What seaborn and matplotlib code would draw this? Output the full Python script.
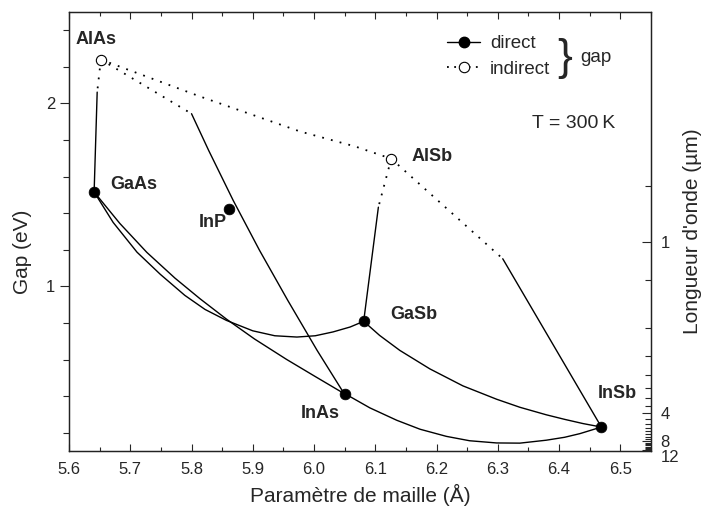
import numpy as np
import pandas as pd
import matplotlib
matplotlib.use("Agg")
import matplotlib.pyplot as plt
from matplotlib.lines import Line2D
from matplotlib.ticker import MultipleLocator, FixedLocator, FormatStrFormatter
import seaborn as sns

# binary III-V compounds at 300 K
compounds = ["AlAs", "GaAs", "InP", "AlSb", "GaSb", "InAs", "InSb"]
lattice = [5.652, 5.641, 5.861, 6.126, 6.081, 6.050, 6.469]
gaps = [2.240, 1.515, 1.422, 1.698, 0.809, 0.414, 0.231]
gap_type = ["indirect", "direct", "direct", "indirect", "direct", "direct", "direct"]

# ternary alloys, points
# indirect parts (dotted)
algaas_ind_a = [5.652, 5.646]
algaas_ind_e = [2.240, 2.062]
alinas_ind_a = [5.652, 5.800]
alinas_ind_e = [2.240, 1.944]
alassb_ind_a = [5.652, 5.814, 5.977, 6.067, 6.126]
alassb_ind_e = [2.240, 2.038, 1.847, 1.765, 1.698]
algasb_ind_a = [6.126, 6.105]
algasb_ind_e = [1.698, 1.433]
alinsb_ind_a = [6.126, 6.308]
alinsb_ind_e = [1.698, 1.151]

# direct parts (solid)
algaas_dir_a = [5.646, 5.641]
algaas_dir_e = [2.062, 1.515]
alinas_dir_a = [5.800, 5.828, 5.868, 5.911, 5.957, 6.005, 6.049]
alinas_dir_e = [1.944, 1.743, 1.470, 1.197, 0.924, 0.650, 0.414]
algasb_dir_a = [6.105, 6.081]
algasb_dir_e = [1.433, 0.809]
alinsb_dir_a = [6.308, 6.469]
alinsb_dir_e = [1.151, 0.231]
gaassb_a = [5.641, 5.672, 5.711, 5.749, 5.789, 5.822, 5.857, 5.900,
            5.936, 5.972, 6.002, 6.031, 6.059, 6.081]
gaassb_e = [1.516, 1.350, 1.187, 1.066, 0.951, 0.874, 0.814, 0.757,
            0.730, 0.723, 0.730, 0.751, 0.778, 0.809]
ingaas_a = [5.641, 5.683, 5.727, 5.773, 5.814, 5.857, 5.903, 5.955, 6.001, 6.049]
ingaas_e = [1.516, 1.344, 1.186, 1.045, 0.932, 0.821, 0.712, 0.601, 0.509, 0.414]
inassb_a = [6.050, 6.091, 6.135, 6.173, 6.216, 6.254, 6.298, 6.336,
            6.379, 6.409, 6.434, 6.469]
inassb_e = [0.414, 0.336, 0.268, 0.219, 0.180, 0.156, 0.144, 0.143,
            0.159, 0.175, 0.195, 0.231]
ingasb_a = [6.081, 6.107, 6.140, 6.189, 6.243, 6.298, 6.336, 6.379,
            6.409, 6.439, 6.469]
ingasb_e = [0.809, 0.732, 0.650, 0.549, 0.456, 0.383, 0.339, 0.298,
            0.273, 0.250, 0.231]

# wavelength ticks on the right axis (µm)
wl_major = [1, 4, 8, 12]
wl_minor = [0.8, 1.2, 1.6, 2.0, 2.4, 2.8, 3.2, 3.6] + list(np.arange(4.5, 12, 0.5))

segments = [
    ("AlGaAs i", "indirect", algaas_ind_a, algaas_ind_e),
    ("AlInAs i", "indirect", alinas_ind_a, alinas_ind_e),
    ("AlAsSb i", "indirect", alassb_ind_a, alassb_ind_e),
    ("AlGaSb i", "indirect", algasb_ind_a, algasb_ind_e),
    ("AlInSb i", "indirect", alinsb_ind_a, alinsb_ind_e),
    ("AlGaAs d", "direct", algaas_dir_a, algaas_dir_e),
    ("AlInAs d", "direct", alinas_dir_a, alinas_dir_e),
    ("AlGaSb d", "direct", algasb_dir_a, algasb_dir_e),
    ("AlInSb d", "direct", alinsb_dir_a, alinsb_dir_e),
    ("GaAsSb", "direct", gaassb_a, gaassb_e),
    ("InGaAs", "direct", ingaas_a, ingaas_e),
    ("InAsSb", "direct", inassb_a, inassb_e),
    ("InGaSb", "direct", ingasb_a, ingasb_e),
]
curves = pd.concat(
    [pd.DataFrame({"a": a, "E": e, "segment": name, "type": kind})
     for name, kind, a, e in segments],
    ignore_index=True,
)
points = pd.DataFrame({"name": compounds, "a": lattice, "E": gaps, "type": gap_type})

sns.set_style("ticks")
plt.rcParams["font.family"] = ["Liberation Sans", "DejaVu Sans"]

fig = plt.figure(figsize=(7.1, 5.19), dpi=100)
ax = fig.add_axes([69 / 710, 68 / 519, 582 / 710, 439 / 519])

sns.lineplot(data=curves, x="a", y="E", units="segment", style="type",
             estimator=None, sort=False, color="black", linewidth=1.0,
             dashes={"direct": "", "indirect": (1, 4)}, legend=False, ax=ax)
for ln in ax.lines:
    if ln.get_linestyle() != "-":
        ln.set_linewidth(1.3)

direct = points[points["type"] == "direct"]
indirect = points[points["type"] == "indirect"]
sns.scatterplot(data=direct, x="a", y="E", color="black", s=60,
                edgecolor="black", linewidth=0.5, zorder=5, ax=ax)
sns.scatterplot(data=indirect, x="a", y="E", color="white", s=55,
                edgecolor="black", linewidth=0.8, zorder=5, ax=ax)

# compound labels, offsets in pixels from each point
offsets = {
    "AlAs": (-5, 20, "center"),
    "GaAs": (16, 8, "left"),
    "InP": (-2, -13, "right"),
    "AlSb": (20, 2, "left"),
    "GaSb": (27, 7, "left"),
    "InAs": (-5, -20, "right"),
    "InSb": (16, 34, "center"),
}
for name, a, e in zip(compounds, lattice, gaps):
    dx, dy, ha = offsets[name]
    ax.annotate(name, (a, e), xytext=(dx, dy), textcoords="offset pixels",
                ha=ha, va="center", fontsize=13, fontweight="bold")

ax.text(6.491, 1.89, "T = 300\u2009K", ha="right", va="center", fontsize=14)

ax.set_xlim(5.6, 6.55)
ax.set_ylim(0.1, 2.5)
ax.xaxis.set_major_locator(MultipleLocator(0.1))
ax.xaxis.set_minor_locator(MultipleLocator(0.05))
ax.xaxis.set_major_formatter(FormatStrFormatter("%.1f"))
ax.yaxis.set_major_locator(FixedLocator([1, 2]))
ax.yaxis.set_minor_locator(MultipleLocator(0.2))
ax.tick_params(axis="x", which="both", direction="in", top=True, labelsize=12, width=0.8)
ax.tick_params(axis="x", which="major", length=5, pad=8)
ax.tick_params(axis="x", which="minor", length=3)
ax.tick_params(axis="y", which="both", direction="out", right=False, labelsize=12, width=0.8)
ax.tick_params(axis="y", which="major", length=6.5)
ax.tick_params(axis="y", which="minor", length=4)
ax.set_xlabel("Paramètre de maille (Å)", fontsize=15)
ax.set_ylabel("Gap (eV)", fontsize=15)
ax.xaxis.set_label_coords(0.5, -0.075)
ax.yaxis.set_label_coords(-0.064, 0.453)
for sp in ax.spines.values():
    sp.set_linewidth(0.9)
    sp.set_color("#222222")

# right axis: wavelength = 1.24 / E
ax2 = ax.twinx()
ax2.set_ylim(ax.get_ylim())
ax2.yaxis.set_major_locator(FixedLocator(1.24 / np.array(wl_major, dtype=float)))
ax2.yaxis.set_minor_locator(FixedLocator(1.24 / np.array(wl_minor, dtype=float)))
ax2.set_yticklabels([str(w) for w in wl_major])
ax2.get_yticklabels()[-1].set_va("top")
ax2.tick_params(axis="y", which="both", direction="in", labelsize=12, width=0.8)
ax2.tick_params(axis="y", which="major", length=6.5, pad=7)
ax2.tick_params(axis="y", which="minor", length=4)
ax2.set_ylabel("Longueur d'onde (µm)", fontsize=15)
ax2.yaxis.set_label_coords(1.055, 0.5)
for sp in ax2.spines.values():
    sp.set_linewidth(0.9)
    sp.set_color("#222222")

# legend
handles = [
    Line2D([], [], color="black", lw=1.0, marker="o", markersize=7.5,
           markerfacecolor="black", markeredgecolor="black"),
    Line2D([], [], color="black", lw=1.3, linestyle=(0, (1, 3)), marker="o",
           markersize=7.5, markerfacecolor="white", markeredgecolor="black",
           markeredgewidth=0.8),
]
ax.legend(handles, ["direct", "indirect"], loc="upper left",
          bbox_to_anchor=(0.649, 0.947), frameon=False, fontsize=13.5,
          handlelength=1.8, handletextpad=0.5, labelspacing=0.45,
          borderpad=0, borderaxespad=0)
ax.text(0.852, 0.893, "}", transform=ax.transAxes, ha="center", va="center",
        fontsize=32, fontweight="light")
ax.text(0.878, 0.897, "gap", transform=ax.transAxes, ha="left", va="center",
        fontsize=13.5)

fig.savefig("out.png", dpi=100)
